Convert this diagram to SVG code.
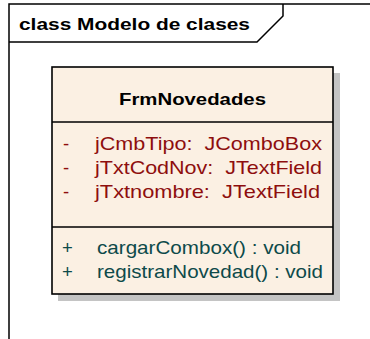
<svg xmlns="http://www.w3.org/2000/svg" width="370" height="339" viewBox="0 0 370 339">
<style>
.frame{fill:none;stroke:#000;stroke-width:1.5}
.box{fill:#FBF0E3;stroke:#000;stroke-width:1.6}
.shadow{fill:#C4C4C4}
.title{font-family:"Liberation Sans",Arial,sans-serif;font-weight:bold;font-size:16.5px;fill:#000}
.cname{font-family:"Liberation Sans",Arial,sans-serif;font-weight:bold;font-size:17px;fill:#000}
.attr{font-family:"Liberation Sans",Arial,sans-serif;font-size:18.5px;fill:#8E0E0E;white-space:pre}
.meth{font-family:"Liberation Sans",Arial,sans-serif;font-size:18.5px;fill:#0D4A4A}
</style>
<rect width="370" height="339" fill="#fff"/>
<g id="frame">
<path class="frame" d="M9,339 V4 H372"/>
<path class="frame" d="M9,42 H257 L283,16 V4"/>
<text class="title" x="19" y="29.5" textLength="231" lengthAdjust="spacingAndGlyphs">class Modelo de clases</text>
</g>
<g id="FrmNovedades">
<rect class="shadow" x="58" y="73" width="282" height="228"/>
<rect class="box" x="52" y="67" width="281" height="227"/>
<line x1="52" y1="122" x2="333" y2="122" stroke="#000" stroke-width="1.6"/>
<line x1="52" y1="227" x2="333" y2="227" stroke="#000" stroke-width="1.6"/>
<text class="cname" x="119" y="105" textLength="147" lengthAdjust="spacingAndGlyphs">FrmNovedades</text>
<text class="attr" x="63" y="150">-</text>
<text class="attr" x="95" y="150" textLength="227" lengthAdjust="spacingAndGlyphs">jCmbTipo:&#160; JComboBox</text>
<text class="attr" x="63" y="174">-</text>
<text class="attr" x="95" y="174" textLength="227" lengthAdjust="spacingAndGlyphs">jTxtCodNov:&#160; JTextField</text>
<text class="attr" x="63" y="198">-</text>
<text class="attr" x="95" y="198" textLength="225" lengthAdjust="spacingAndGlyphs">jTxtnombre:&#160; JTextField</text>
<text class="meth" x="62" y="254">+</text>
<text class="meth" x="97" y="254" textLength="204" lengthAdjust="spacingAndGlyphs">cargarCombox() : void</text>
<text class="meth" x="62" y="278">+</text>
<text class="meth" x="97" y="278" textLength="226" lengthAdjust="spacingAndGlyphs">registrarNovedad() : void</text>
</g>
<g id="connectors"/>
</svg>
